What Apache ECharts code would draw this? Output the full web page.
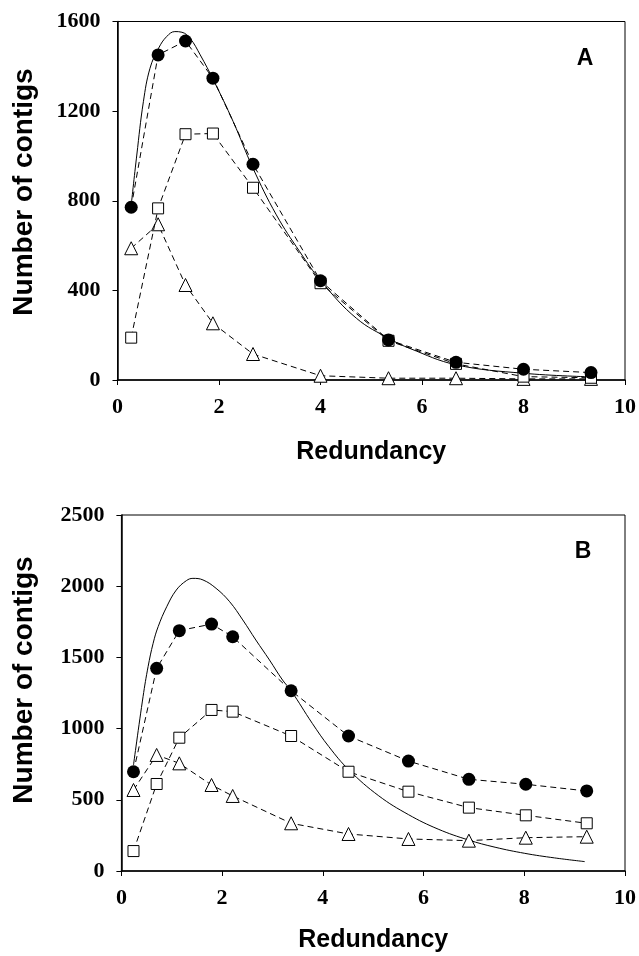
<!DOCTYPE html>
<html>
<head>
<meta charset="utf-8">
<script src="https://cdn.jsdelivr.net/npm/echarts@6/dist/echarts.min.js"></script>
<style>
  html, body { margin: 0; padding: 0; background: #fff; }
  #chart { width: 639px; height: 956px; }
</style>
</head>
<body>
<div id="chart"></div>
<script>
// ---------- Panel A ----------
const aX = [0.27, 0.80, 1.34, 1.88, 2.67, 4.0, 5.34, 6.67, 8.0, 9.33];
const aFilledCircles = [771, 1451, 1513, 1347, 963, 443, 179, 79, 48, 33];
const aOpenSquares = [189, 766, 1097, 1100, 858, 432, 175, 72, 15, 10];
const aOpenTriangles = [588, 695, 424, 253, 116, 19, 8, 8, 5, 5];
const aCurveX = [0.27, 0.38, 0.51, 0.64, 0.81, 0.97, 1.13, 1.27, 1.43, 1.63, 1.89, 2.28, 2.67, 3.13, 3.59, 4.02, 4.71, 5.36, 5.76, 6.67, 8.0, 9.33];
const aCurveY = [780, 1004, 1242, 1391, 1481, 1533, 1555, 1552, 1525, 1451, 1339, 1153, 945, 737, 573, 439, 275, 184, 141, 68, 30, 14];
const aYTicks = [0, 400, 800, 1200, 1600];

// ---------- Panel B ----------
const bX = [0.24, 0.70, 1.15, 1.79, 2.21, 3.37, 4.51, 5.70, 6.90, 8.03, 9.24];
const bFilledCircles = [697, 1423, 1688, 1734, 1645, 1266, 948, 772, 644, 609, 562];
const bOpenSquares = [140, 611, 936, 1131, 1119, 948, 697, 557, 445, 391, 335];
const bOpenTriangles = [569, 815, 756, 604, 527, 335, 260, 225, 213, 234, 241];
const bCurveX = [0.24, 0.43, 0.53, 0.63, 0.73, 0.90, 1.09, 1.29, 1.42, 1.62, 1.88, 2.15, 2.41, 2.67, 2.94, 3.20, 3.37, 3.79, 4.12, 4.52, 5.11, 5.70, 6.29, 6.89, 7.42, 8.01, 8.60, 9.20];
const bCurveY = [744, 1224, 1435, 1599, 1716, 1856, 1973, 2039, 2055, 2044, 1985, 1891, 1763, 1622, 1482, 1341, 1266, 1037, 873, 709, 528, 396, 294, 218, 167, 124, 92, 66];
const bYTicks = [0, 500, 1000, 1500, 2000, 2500];

const xTicks = [0, 2, 4, 6, 8, 10];
const xTitle = 'Redundancy';
const yTitle = 'Number of contigs';
const panelLabels = ['A', 'B'];

function pairs(xs, ys) { return xs.map((x, i) => [x, ys[i]]); }

const SERIF = '"Liberation Serif", "Times New Roman", serif';
const SANS = '"Liberation Sans", Arial, sans-serif';

function xAxisCfg(gridIndex, gap) {
  return {
    type: 'value', gridIndex, min: xTicks[0], max: xTicks[xTicks.length - 1], interval: 2,
    name: xTitle, nameLocation: 'middle', nameGap: gap,
    nameTextStyle: { fontFamily: SANS, fontWeight: 'bold', fontSize: 25, color: '#000' },
    axisLine: { show: true, lineStyle: { color: '#000', width: 1.5 } },
    axisTick: { show: true, inside: false, length: 5, lineStyle: { color: '#000', width: 1 } },
    axisLabel: { fontFamily: SERIF, fontWeight: 'bold', fontSize: 22, color: '#000', margin: 16,
                 formatter: v => String(v) },
    splitLine: { show: false }
  };
}
function yAxisCfg(gridIndex, ticks) {
  return {
    type: 'value', gridIndex, min: ticks[0], max: ticks[ticks.length - 1], interval: ticks[1] - ticks[0],
    axisLine: { show: true, lineStyle: { color: '#000', width: 1.5 } },
    axisTick: { show: true, inside: false, length: 5, lineStyle: { color: '#000', width: 1 } },
    axisLabel: { fontFamily: SERIF, fontWeight: 'bold', fontSize: 22, color: '#000', margin: 17,
                 formatter: v => String(v) },
    splitLine: { show: false }
  };
}

const dashed = { color: '#000', width: 1, type: [6, 4] };

function panelSeries(idx, xs, circles, squares, tris, cx, cy) {
  return [
    {
      type: 'line', xAxisIndex: idx, yAxisIndex: idx, data: pairs(cx, cy),
      smooth: 0.4, showSymbol: false, symbol: 'none',
      lineStyle: { color: '#000', width: 1 }, z: 1
    },
    {
      type: 'line', xAxisIndex: idx, yAxisIndex: idx, data: pairs(xs, tris),
      symbol: 'triangle', symbolSize: 13, lineStyle: dashed,
      itemStyle: { color: '#fff', borderColor: '#000', borderWidth: 1 }, z: 2
    },
    {
      type: 'line', xAxisIndex: idx, yAxisIndex: idx, data: pairs(xs, squares),
      symbol: 'rect', symbolSize: 11, lineStyle: dashed,
      itemStyle: { color: '#fff', borderColor: '#000', borderWidth: 1 }, z: 3
    },
    {
      type: 'line', xAxisIndex: idx, yAxisIndex: idx, data: pairs(xs, circles),
      symbol: 'circle', symbolSize: 13, lineStyle: dashed,
      itemStyle: { color: '#000', borderColor: '#000', borderWidth: 0 }, z: 4
    }
  ];
}

const chart = echarts.init(document.getElementById('chart'), null, { renderer: 'canvas' });
chart.setOption({
  animation: false,
  backgroundColor: '#fff',
  grid: [
    { left: 117.5, top: 21.5, width: 510, height: 358.5, show: true, borderColor: '#000', borderWidth: 1, backgroundColor: 'transparent', containLabel: false },
    { left: 121.4, top: 515, width: 506.3, height: 356, show: true, borderColor: '#000', borderWidth: 1, backgroundColor: 'transparent', containLabel: false }
  ],
  xAxis: [xAxisCfg(0, 60), xAxisCfg(1, 57)],
  yAxis: [yAxisCfg(0, aYTicks), yAxisCfg(1, bYTicks)],
  series: [
    ...panelSeries(0, aX, aFilledCircles, aOpenSquares, aOpenTriangles, aCurveX, aCurveY),
    ...panelSeries(1, bX, bFilledCircles, bOpenSquares, bOpenTriangles, bCurveX, bCurveY)
  ],
  graphic: [
    { type: 'text', x: 24, y: 192, rotation: Math.PI / 2,
      style: { text: yTitle, fill: '#000', font: 'bold 28px ' + SANS, align: 'center', verticalAlign: 'middle' } },
    { type: 'text', x: 24, y: 680, rotation: Math.PI / 2,
      style: { text: yTitle, fill: '#000', font: 'bold 28px ' + SANS, align: 'center', verticalAlign: 'middle' } },
    { type: 'text', x: 585, y: 59,
      style: { text: panelLabels[0], fill: '#000', font: 'bold 23px ' + SANS, align: 'center', verticalAlign: 'middle' } },
    { type: 'text', x: 583, y: 552,
      style: { text: panelLabels[1], fill: '#000', font: 'bold 23px ' + SANS, align: 'center', verticalAlign: 'middle' } }
  ]
});
</script>
</body>
</html>
